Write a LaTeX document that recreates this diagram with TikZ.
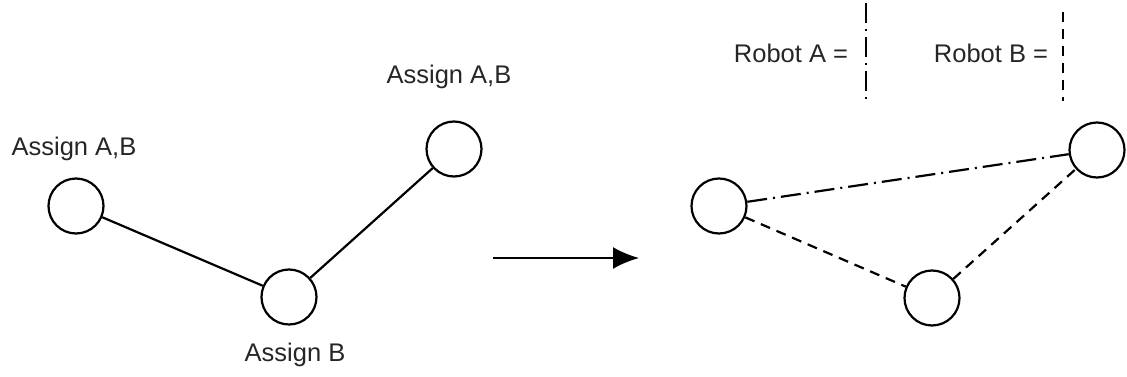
\documentclass[tikz,border=0pt]{standalone}
\usepackage{fontspec}
\setmainfont{Liberation Sans}
\usetikzlibrary{arrows.meta}
\begin{document}
\begin{tikzpicture}[x=1pt, y=-1pt,
        vertex/.style={draw, circle, line width=2.2pt, minimum size=55pt, inner sep=0pt},
        lbl/.style={text=black!85, font=\fontsize{25.5}{30}\selectfont, inner sep=0pt},
        edge/.style={line width=2.2pt},
        robota/.style={edge, dash pattern=on 20pt off 6pt on 2pt off 6pt},
        robotb/.style={edge, dash pattern=on 10pt off 7pt}]
    \useasboundingbox (0, 0) rectangle (1127, 377);
    % before
    \node[vertex] (l1) at (76, 206) {};
    \node[vertex] (l2) at (289, 297) {};
    \node[vertex] (l3) at (454, 149) {};
    \node[lbl] (t1) at (74, 149) {Assign A,B};
    \node[lbl] (t2) at (449, 77) {Assign A,B};
    \node[lbl] (t3) at (295, 355) {Assign B};
    \draw[edge] (l1) -- (l2);
    \draw[edge] (l2) -- (l3);
    % arrow
    \coordinate (from) at (493, 258);
    \coordinate (to) at (639, 258);
    \draw[edge, -{Latex[length=26pt, width=22pt]}] (from) -- (to);
    % after
    \node[vertex] (r1) at (719, 206) {};
    \node[vertex] (r2) at (932, 298) {};
    \node[vertex] (r3) at (1097, 150) {};
    \draw[robota] (r1) -- (r3);
    \draw[robotb] (r1) -- (r2);
    \draw[robotb] (r2) -- (r3);
    % legend
    \node[lbl] (ka) at (791, 53) {Robot A =};
    \node[lbl] (kb) at (991, 53) {Robot B =};
    \coordinate (ka top) at (866, 3);
    \coordinate (ka bot) at (866, 103);
    \coordinate (kb top) at (1063, 12);
    \coordinate (kb bot) at (1063, 101);
    \draw[robota] (ka top) -- (ka bot);
    \draw[robotb] (kb top) -- (kb bot);
\end{tikzpicture}
\end{document}
